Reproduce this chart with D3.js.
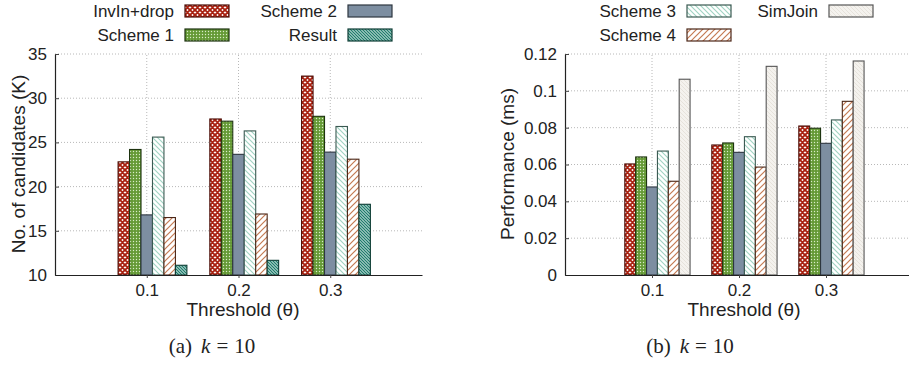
<!DOCTYPE html>
<html>
<head>
<meta charset="utf-8">
<script src="https://cdn.jsdelivr.net/npm/d3@7"></script>
<style>
  body { margin: 0; background: #fff; }
  text { font-family: "Liberation Sans", Arial, sans-serif; fill: #222; }
  .grid line { stroke: #b8b8b8; stroke-dasharray: 1,2; }
  .caption { font-family: "Liberation Serif", "DejaVu Serif", serif; font-size: 21px; }
</style>
</head>
<body>
<svg id="chart" width="909" height="367"></svg>
<script>
// thresholds on the x axis
const thresholds = [0.1, 0.2, 0.3];

// (a) No. of candidates (K), k = 10
const candInvIn   = [22.8, 27.65, 32.5];
const candScheme1 = [24.2, 27.4, 27.95];
const candScheme2 = [16.8, 23.65, 23.9];
const candScheme3 = [25.6, 26.3, 26.8];
const candScheme4 = [16.5, 16.9, 23.1];
const candResult  = [11.1, 11.66, 18.0];

// (b) Performance (ms), k = 10
const perfInvIn   = [0.0603, 0.0706, 0.0809];
const perfScheme1 = [0.0641, 0.0717, 0.0797];
const perfScheme2 = [0.0478, 0.0666, 0.0715];
const perfScheme3 = [0.0673, 0.0751, 0.0842];
const perfScheme4 = [0.0509, 0.0586, 0.0943];
const perfSimJoin = [0.1063, 0.1133, 0.1162];

const yTicksA = [10, 15, 20, 25, 30, 35];
const yTicksB = [0, 0.02, 0.04, 0.06, 0.08, 0.1, 0.12];

const svg = d3.select("#chart");
const defs = svg.append("defs");

// fill patterns, one per series
function pat(id, size, bg, draw){
    let p = defs.append("pattern").attr("id", id)
        .attr("patternUnits", "userSpaceOnUse")
        .attr("width", size).attr("height", size);
    p.append("rect").attr("width", size).attr("height", size).attr("fill", bg);
    draw(p);
}
pat("p-invin", 5, "#fff", function(p){
    p.append("path").attr("d", "M0,0L5,5M5,0L0,5M-1,4L1,6M4,-1L6,1M-1,1L1,-1M4,6L6,4")
        .attr("stroke", "#a8200f").attr("stroke-width", 1.9);
});
pat("p-s1", 3, "#659a36", function(p){
    p.append("circle").attr("cx", 1.5).attr("cy", 1.5).attr("r", 0.7).attr("fill", "#d9ecc8");
});
pat("p-s3", 5, "#fff", function(p){
    p.append("path").attr("d", "M0,0L5,5M-1,4L1,6M4,-1L6,1").attr("stroke", "#9fd3c2").attr("stroke-width", 1.1);
});
pat("p-s4", 6, "#fff", function(p){
    p.append("path").attr("d", "M0,6L6,0M-1,1L1,-1M5,7L7,5").attr("stroke", "#c47a52").attr("stroke-width", 1.2);
});
pat("p-res", 3, "#fff", function(p){
    p.append("path").attr("d", "M0,0L3,3M-1,2L1,4M2,-1L4,1").attr("stroke", "#1f7d6c").attr("stroke-width", 1.5);
});
pat("p-sim", 4, "#f4f2ee", function(p){
    p.append("path").attr("d", "M0,0L4,4M-1,3L1,5M3,-1L5,1").attr("stroke", "#e2ded6").attr("stroke-width", 0.8);
});

const styles = {
    "InvIn+drop": {fill: "url(#p-invin)", stroke: "#4a0d06"},
    "Scheme 1": {fill: "url(#p-s1)", stroke: "#1d330f"},
    "Scheme 2": {fill: "#7d8ea1", stroke: "#2e3640"},
    "Scheme 3": {fill: "url(#p-s3)", stroke: "#3b5a52"},
    "Scheme 4": {fill: "url(#p-s4)", stroke: "#4b2616"},
    "Result": {fill: "url(#p-res)", stroke: "#0e3d35"},
    "SimJoin": {fill: "url(#p-sim)", stroke: "#555"}
};

function panel(opt){
    let g = svg.append("g");
    let x = d3.scaleLinear().domain([0, 0.4]).range([opt.x0, opt.x1]);
    let y = d3.scaleLinear().domain(opt.yDomain).range([275, 54]);
    let step = x(0.1) - x(0);
    let bw = step / 8;

    // grid
    g.append("g").attr("class", "grid").selectAll("line").data(opt.yTicks.slice(1)).join("line")
        .attr("x1", opt.x0).attr("x2", opt.x1).attr("y1", d => y(d)).attr("y2", d => y(d));
    g.append("g").attr("class", "grid").selectAll("line").data(thresholds).join("line")
        .attr("x1", d => x(d)).attr("x2", d => x(d)).attr("y1", 275).attr("y2", 54);

    // bars
    opt.series.forEach(function(s, i){
        let st = styles[s.name];
        g.append("g").selectAll("rect").data(s.values).join("rect")
            .attr("x", (d, j) => x(thresholds[j]) + (i - 2.5) * bw)
            .attr("width", bw)
            .attr("y", d => y(d))
            .attr("height", d => y(opt.yDomain[0]) - y(d))
            .attr("fill", st.fill)
            .attr("stroke", st.stroke)
            .attr("stroke-width", 1.1);
    });

    // axes
    let ya = g.append("g").attr("transform", "translate(" + opt.x0 + ",0)")
        .call(d3.axisLeft(y).tickValues(opt.yTicks).tickFormat(opt.fmt).tickSizeInner(-4).tickSizeOuter(0).tickPadding(8));
    let xa = g.append("g").attr("transform", "translate(0,275)")
        .call(d3.axisBottom(x).tickValues(thresholds).tickFormat(d3.format(".1f")).tickSizeInner(3).tickSizeOuter(0).tickPadding(6));
    [ya, xa].forEach(function(a){
        a.select(".domain").attr("stroke", "#222").attr("stroke-width", 1.2);
        a.selectAll(".tick line").attr("stroke", "#444");
        a.selectAll("text").style("font-size", "17px").attr("fill", "#222")
            .style("font-family", '"Liberation Sans", Arial, sans-serif');
    });

    g.append("text").attr("x", opt.titleX).attr("y", 316)
        .attr("text-anchor", "middle").style("font-size", "19px").text("Threshold (θ)");
    g.append("text").attr("transform", "translate(" + opt.ylabX + ",164) rotate(-90)")
        .attr("text-anchor", "middle").style("font-size", "19px").text(opt.ylabel);

    let cap = g.append("text").attr("class", "caption").attr("x", opt.capX).attr("y", 353).attr("text-anchor", "middle");
    cap.append("tspan").text(opt.capTag);
    cap.append("tspan").attr("dx", 9).style("font-style", "italic").text("k");
    cap.append("tspan").attr("dx", 6).text("=");
    cap.append("tspan").attr("dx", 6).text("10");

    // legend
    opt.legend.forEach(function(l){
        let st = styles[l.name];
        g.append("text").attr("x", l.tx).attr("y", l.ty + 6).attr("text-anchor", "end")
            .style("font-size", "17px").text(l.name);
        g.append("rect").attr("x", l.tx + 11).attr("y", l.ty - 6).attr("width", 44).attr("height", 12)
            .attr("fill", st.fill).attr("stroke", st.stroke).attr("stroke-width", 1.2);
    });
}

panel({
    x0: 55, x1: 422, yDomain: [10, 35], yTicks: yTicksA, fmt: d3.format("d"),
    ylabel: "No. of candidates (K)", ylabX: 25, capX: 212, capTag: "(a)", titleX: 243,
    series: [
        {name: "InvIn+drop", values: candInvIn},
        {name: "Scheme 1", values: candScheme1},
        {name: "Scheme 2", values: candScheme2},
        {name: "Scheme 3", values: candScheme3},
        {name: "Scheme 4", values: candScheme4},
        {name: "Result", values: candResult}
    ],
    legend: [
        {name: "InvIn+drop", tx: 174, ty: 11},
        {name: "Scheme 1", tx: 174, ty: 35},
        {name: "Scheme 2", tx: 337, ty: 11},
        {name: "Result", tx: 337, ty: 35}
    ]
});

panel({
    x0: 565, x1: 913, yDomain: [0, 0.12], yTicks: yTicksB, fmt: d => d === 0 ? "0" : d3.format("")(d),
    ylabel: "Performance (ms)", ylabX: 514, capX: 690, capTag: "(b)", titleX: 744,
    series: [
        {name: "InvIn+drop", values: perfInvIn},
        {name: "Scheme 1", values: perfScheme1},
        {name: "Scheme 2", values: perfScheme2},
        {name: "Scheme 3", values: perfScheme3},
        {name: "Scheme 4", values: perfScheme4},
        {name: "SimJoin", values: perfSimJoin}
    ],
    legend: [
        {name: "Scheme 3", tx: 676, ty: 11},
        {name: "Scheme 4", tx: 676, ty: 35},
        {name: "SimJoin", tx: 818, ty: 11}
    ]
});
</script>
</body>
</html>
